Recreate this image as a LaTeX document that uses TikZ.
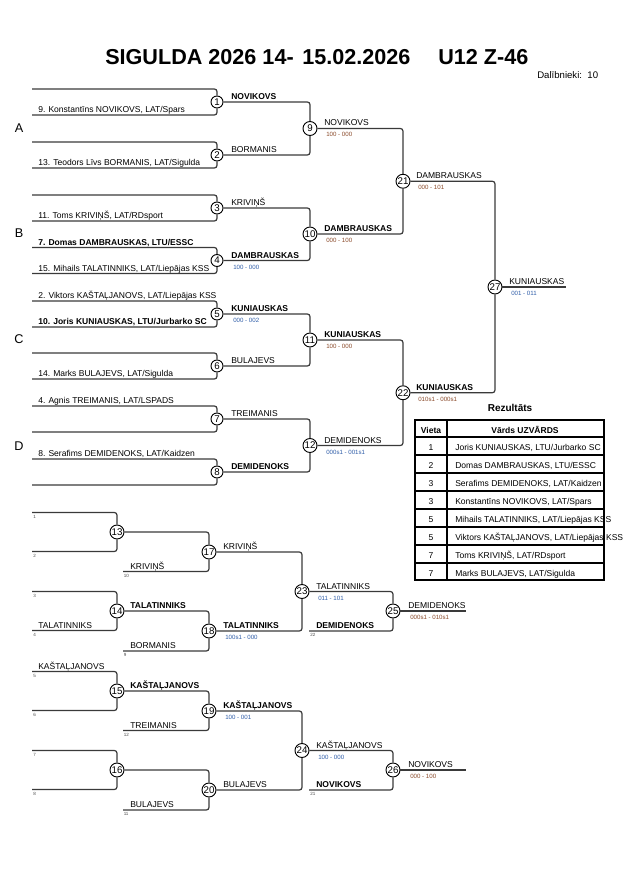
\documentclass[tikz,border=0pt]{standalone}
\usepackage{fontspec}
\setmainfont{Liberation Sans}
\definecolor{lnc}{HTML}{3A3A3A}
\definecolor{scblue}{HTML}{2F5DA8}
\definecolor{scbrown}{HTML}{8A4A2A}
\begin{document}
\begin{tikzpicture}[x=0.75pt,y=-0.75pt,
 ln/.style={draw=lnc,line width=0.9pt,rounded corners=2pt},
 mc/.style={circle,draw=black,line width=0.7pt,fill=white,inner sep=0pt,minimum size=10.5pt,font=\fontsize{7.3}{7.3}\selectfont},
 mcs/.style={mc,minimum size=9pt},
 nm/.style={anchor=base west,inner sep=0pt,font=\fontsize{6.4}{7}\selectfont},
 nmb/.style={nm,font=\fontsize{6.4}{7}\selectfont\bfseries},
 sc/.style={anchor=base west,inner sep=0pt,font=\fontsize{4.6}{5}\selectfont},
 scu/.style={sc,text=scblue},
 scr/.style={sc,text=scbrown},
 tn/.style={anchor=base west,inner sep=0pt,font=\fontsize{3.4}{4}\selectfont,text=black!70},
 grp/.style={inner sep=0pt,font=\fontsize{9.5}{10}\selectfont},
 tth/.style={anchor=base,inner sep=0pt,font=\fontsize{6.4}{7}\selectfont\bfseries},
 ttn/.style={anchor=base,inner sep=0pt,font=\fontsize{6.4}{7}\selectfont},
]
\useasboundingbox (0,0) rectangle (630,891);

% title
\node[anchor=base west,inner sep=0pt,font=\fontsize{16.2}{18}\selectfont\bfseries] (t1) at (105,65) {SIGULDA 2026 14-};
\node[anchor=base west,inner sep=0pt,font=\fontsize{16.2}{18}\selectfont\bfseries] (t2) at (302,65) {15.02.2026};
\node[anchor=base west,inner sep=0pt,font=\fontsize{16.2}{18}\selectfont\bfseries] (t3) at (438,65) {U12 Z-46};
\node[anchor=base west,inner sep=0pt,font=\fontsize{7.2}{8}\selectfont] (dal) at (537,79) {Dalībnieki:\ \ 10};

% group letters
\node[grp] (gA) at (19,128) {A};
\node[grp] (gB) at (19,233) {B};
\node[grp] (gC) at (19,339) {C};
\node[grp] (gD) at (19,446) {D};

% main bracket round 1
\foreach \i/\y in {1/102,2/155,3/208,4/260.5,5/314,6/366,7/419,8/472}{
  \node[mcs] (m\i) at (217,\y) {\i};
  \coordinate (a\i) at (32,{\y-13});
  \coordinate (b\i) at (32,{\y+13});
  \draw[ln] (a\i) -| (m\i);
  \draw[ln] (b\i) -| (m\i);
}
\foreach \i/\y in {9/128.5,10/234,11/340,12/445.5}{
  \node[mc] (m\i) at (310,\y) {\i};
}
\node[mc] (m21) at (403,181.25) {21};
\node[mc] (m22) at (403,392.75) {22};
\node[mc] (m27) at (495,287) {27};
\coordinate (f27) at (566,287);

\draw[ln] (m1) -| (m9);  \draw[ln] (m2) -| (m9);
\draw[ln] (m3) -| (m10); \draw[ln] (m4) -| (m10);
\draw[ln] (m5) -| (m11); \draw[ln] (m6) -| (m11);
\draw[ln] (m7) -| (m12); \draw[ln] (m8) -| (m12);
\draw[ln] (m9) -| (m21); \draw[ln] (m10) -| (m21);
\draw[ln] (m11) -| (m22); \draw[ln] (m12) -| (m22);
\draw[ln] (m21) -| (m27); \draw[ln] (m22) -| (m27);
\draw[ln] (m27) -- (f27);

% entrants
\node[nm] (e1) at (38,112.5) {9. Konstantīns NOVIKOVS, LAT/Spars};
\node[nm] (e2) at (38,165.5) {13. Teodors Līvs BORMANIS, LAT/Sigulda};
\node[nm] (e3) at (38,218.5) {11. Toms KRIVIŅŠ, LAT/RDsport};
\node[nmb] (e4a) at (38,245) {7. Domas DAMBRAUSKAS, LTU/ESSC};
\node[nm] (e4b) at (38,271) {15. Mihails TALATINNIKS, LAT/Liepājas KSS};
\node[nm] (e5a) at (38,298.5) {2. Viktors KAŠTAĻJANOVS, LAT/Liepājas KSS};
\node[nmb] (e5b) at (38,324.5) {10. Joris KUNIAUSKAS, LTU/Jurbarko SC};
\node[nm] (e6) at (38,376.5) {14. Marks BULAJEVS, LAT/Sigulda};
\node[nm] (e7) at (38,403.5) {4. Agnis TREIMANIS, LAT/LSPADS};
\node[nm] (e8) at (38,456.5) {8. Serafims DEMIDENOKS, LAT/Kaidzen};

% winners main
\node[nmb] (w1) at (231,99.5) {NOVIKOVS};
\node[nm] (w2) at (231,152.5) {BORMANIS};
\node[nm] (w3) at (231,205.5) {KRIVIŅŠ};
\node[nmb] (w4) at (231,258) {DAMBRAUSKAS};
\node[scu] (s4) at (233,269) {100 - 000};
\node[nmb] (w5) at (231,311.5) {KUNIAUSKAS};
\node[scu] (s5) at (233,322.5) {000 - 002};
\node[nm] (w6) at (231,363.5) {BULAJEVS};
\node[nm] (w7) at (231,416.5) {TREIMANIS};
\node[nmb] (w8) at (231,469.5) {DEMIDENOKS};
\node[nm] (w9) at (324,126) {NOVIKOVS};
\node[scr] (s9) at (326,137) {100 - 000};
\node[nmb] (w10) at (324,231.5) {DAMBRAUSKAS};
\node[scr] (s10) at (326,242.5) {000 - 100};
\node[nmb] (w11) at (324,337.5) {KUNIAUSKAS};
\node[scr] (s11) at (326,348.5) {100 - 000};
\node[nm] (w12) at (324,443) {DEMIDENOKS};
\node[scu] (s12) at (326,454) {000s1 - 001s1};
\node[nm] (w21) at (416,178.75) {DAMBRAUSKAS};
\node[scr] (s21) at (418,189.75) {000 - 101};
\node[nmb] (w22) at (416,390.25) {KUNIAUSKAS};
\node[scr] (s22) at (418,401.25) {010s1 - 000s1};
\node[nm] (w27) at (509,284.5) {KUNIAUSKAS};
\node[scu] (s27) at (511,295.5) {001 - 011};

% repechage
\foreach \i/\y/\p/\q in {13/532/1/2,14/611/3/4,15/691/5/6,16/770/7/8}{
  \node[mc] (m\i) at (117,\y) {\i};
  \coordinate (a\i) at (32,{\y-19.5});
  \coordinate (b\i) at (32,{\y+19.5});
  \draw[ln] (a\i) -| (m\i);
  \draw[ln] (b\i) -| (m\i);
  \node[tn] (ta\i) at (33,{\y-14}) {\p};
  \node[tn] (tb\i) at (33,{\y+25}) {\q};
}
\node[mc] (m17) at (209,552) {17};
\node[mc] (m18) at (209,631) {18};
\node[mc] (m19) at (209,711) {19};
\node[mc] (m20) at (209,790) {20};
\coordinate (c17) at (123,571.5);
\coordinate (c18) at (123,651);
\coordinate (c19) at (123,730.5);
\coordinate (c20) at (123,810);
\node[mc] (m23) at (302,591.5) {23};
\node[mc] (m24) at (302,750.5) {24};
\node[mc] (m25) at (393,611) {25};
\node[mc] (m26) at (393,770) {26};
\coordinate (c25) at (309,631);
\coordinate (c26) at (309,790);
\coordinate (f25) at (466,611);
\coordinate (f26) at (466,770);

\draw[ln] (m13) -| (m17); \draw[ln] (c17) -| (m17);
\draw[ln] (m14) -| (m18); \draw[ln] (c18) -| (m18);
\draw[ln] (m15) -| (m19); \draw[ln] (c19) -| (m19);
\draw[ln] (m16) -| (m20); \draw[ln] (c20) -| (m20);
\draw[ln] (m17) -| (m23); \draw[ln] (m18) -| (m23);
\draw[ln] (m19) -| (m24); \draw[ln] (m20) -| (m24);
\draw[ln] (m23) -| (m25); \draw[ln] (c25) -| (m25);
\draw[ln] (m24) -| (m26); \draw[ln] (c26) -| (m26);
\draw[ln] (m25) -- (f25);
\draw[ln] (m26) -- (f26);

\node[tn] (t10) at (123.5,577) {10};
\node[tn] (t9) at (123.5,656.5) {9};
\node[tn] (t12) at (123.5,736) {12};
\node[tn] (t11) at (123.5,815.5) {11};
\node[tn] (t22) at (310,636.5) {22};
\node[tn] (t21) at (310,795.5) {21};

\node[nm] (r1) at (130,569) {KRIVIŅŠ};
\node[nm] (r2) at (223,549.5) {KRIVIŅŠ};
\node[nmb] (r3) at (130,608.5) {TALATINNIKS};
\node[nm] (r4) at (38,628) {TALATINNIKS};
\node[nm] (r5) at (130,648.5) {BORMANIS};
\node[nmb] (r6) at (223,628.5) {TALATINNIKS};
\node[scu] (q6) at (225,639.5) {100s1 - 000};
\node[nm] (r7) at (316,589) {TALATINNIKS};
\node[scu] (q7) at (318,600) {011 - 101};
\node[nmb] (r8) at (316,628.5) {DEMIDENOKS};
\node[nm] (r9) at (408,608.5) {DEMIDENOKS};
\node[scr] (q9) at (410,619.5) {000s1 - 010s1};
\node[nm] (r10) at (38,669) {KAŠTAĻJANOVS};
\node[nmb] (r11) at (130,688.5) {KAŠTAĻJANOVS};
\node[nmb] (r12) at (223,708.5) {KAŠTAĻJANOVS};
\node[scu] (q12) at (225,719.5) {100 - 001};
\node[nm] (r13) at (130,728) {TREIMANIS};
\node[nm] (r14) at (223,787.5) {BULAJEVS};
\node[nm] (r15) at (130,807.5) {BULAJEVS};
\node[nm] (r16) at (316,748) {KAŠTAĻJANOVS};
\node[scu] (q16) at (318,759) {100 - 000};
\node[nmb] (r17) at (316,787.5) {NOVIKOVS};
\node[nm] (r18) at (408,767.5) {NOVIKOVS};
\node[scr] (q18) at (410,778.5) {000 - 100};

% results table
\node[anchor=base,inner sep=0pt,font=\fontsize{7.5}{8}\selectfont\bfseries] (rez) at (510,411) {Rezultāts};
\foreach \y in {437,455,473,491,509,527,545,563}{
  \draw[line width=0.9pt] (415,\y) -- (604,\y);
}
\draw[line width=0.9pt] (447,420) -- (447,580);
\draw[line width=1.4pt] (415,420) rectangle (604,580);
\node[tth] (hv) at (431,433) {Vieta};
\node[tth] (hn) at (525,433) {Vārds UZVĀRDS};
\foreach \p/\n [count=\k] in {1/{Joris KUNIAUSKAS, LTU/Jurbarko SC},2/{Domas DAMBRAUSKAS, LTU/ESSC},3/{Serafims DEMIDENOKS, LAT/Kaidzen},3/{Konstantīns NOVIKOVS, LAT/Spars},5/{Mihails TALATINNIKS, LAT/Liepājas KSS},5/{Viktors KAŠTAĻJANOVS, LAT/Liepājas KSS},7/{Toms KRIVIŅŠ, LAT/RDsport},7/{Marks BULAJEVS, LAT/Sigulda}}{
  \node[ttn] (pv\k) at (431,{432+18*\k}) {\p};
  \node[nm] (pn\k) at (455,{432+18*\k}) {\n};
}
\end{tikzpicture}
\end{document}
